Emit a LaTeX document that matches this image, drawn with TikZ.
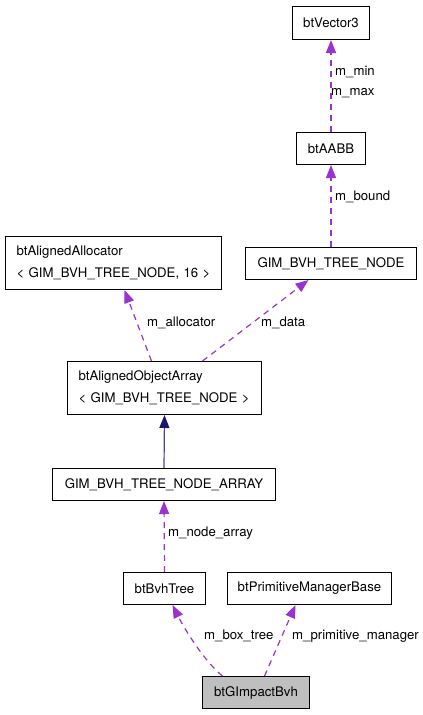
\documentclass[tikz,border=0pt]{standalone}
\usepackage{fontspec}
\setmainfont{TeX Gyre Heros}
\usetikzlibrary{arrows.meta}
\definecolor{usecol}{RGB}{154,50,205}
\definecolor{inhcol}{RGB}{25,25,112}
\definecolor{inhline}{RGB}{70,70,150}
\definecolor{boxfill}{RGB}{191,191,191}
\begin{document}
\begin{tikzpicture}[x=1pt,y=-1pt,
  every node/.style={font=\fontsize{13.2}{22}\selectfont},
  cls/.style={draw=black, line width=1pt, inner sep=0pt, anchor=north west},
  twoline/.style={cls, align=left, inner xsep=11pt, inner ysep=0pt},
  lbl/.style={anchor=west, inner sep=0pt},
  usage/.style={draw=usecol, line width=1.2pt, dash pattern=on 6pt off 5pt,
    -{Triangle[length=13pt,width=10pt,fill=usecol]}},
  inherit/.style={draw=inhline, line width=1.2pt,
    -{Triangle[length=13pt,width=10pt,color=inhcol,fill=inhcol]}}]
\useasboundingbox (0,0) rectangle (423,715);
% classes
\node[cls, minimum width=77pt, minimum height=33pt] (v3) at (292,6) {btVector3};
\node[cls, minimum width=69pt, minimum height=32pt] (aabb) at (296,132) {btAABB};
\node[cls, minimum width=171pt, minimum height=32pt] (node) at (245,247) {GIM\_BVH\_TREE\_NODE};
\node[twoline, minimum width=216pt, minimum height=53pt, text width=194pt] (alloc) at (5,236) {btAlignedAllocator\\< GIM\_BVH\_TREE\_NODE, 16 >};
\node[twoline, minimum width=194pt, minimum height=53pt, text width=172pt] (aoa) at (67,361) {btAlignedObjectArray\\< GIM\_BVH\_TREE\_NODE >};
\node[cls, minimum width=223pt, minimum height=32pt] (arr) at (52,468) {GIM\_BVH\_TREE\_NODE\_ARRAY};
\node[cls, minimum width=82pt, minimum height=32pt] (bvh) at (123,572) {btBvhTree};
\node[cls, minimum width=164pt, minimum height=32pt] (pm) at (227,572) {btPrimitiveManagerBase};
\node[cls, fill=boxfill, minimum width=107pt, minimum height=32pt] (gi) at (202,676) {btGImpactBvh};
% edges
\draw[usage] (aabb.north) -- (v3.south);
\draw[usage] (node.north) -- (aabb.south);
\draw[usage] ([xshift=-13pt]aoa.north) -- ([xshift=11pt]alloc.south);
\draw[usage] ([xshift=38pt]aoa.north) -- ([xshift=-22.5pt]node.south);
\draw[inherit] (arr.north) -- (aoa.south);
\draw[usage] (bvh.north) -- (arr.south);
\draw[usage] ([xshift=-33.5pt]gi.north) .. controls (205,662) and (185,630) .. ([xshift=8pt]bvh.south);
\draw[usage] ([xshift=8.5pt]gi.north) -- ([xshift=-14pt]pm.south);
% labels
\node[lbl] (l1) at (335,72) {m\_min};
\node[lbl] (l2) at (331,93) {m\_max};
\node[lbl] (l3) at (335,197) {m\_bound};
\node[lbl] (l4) at (147,323) {m\_allocator};
\node[lbl] (l5) at (261,323) {m\_data};
\node[lbl] (l6) at (168,533) {m\_node\_array};
\node[lbl] (l7) at (204,636) {m\_box\_tree};
\node[lbl] (l8) at (292,636) {m\_primitive\_manager};
\end{tikzpicture}
\end{document}
